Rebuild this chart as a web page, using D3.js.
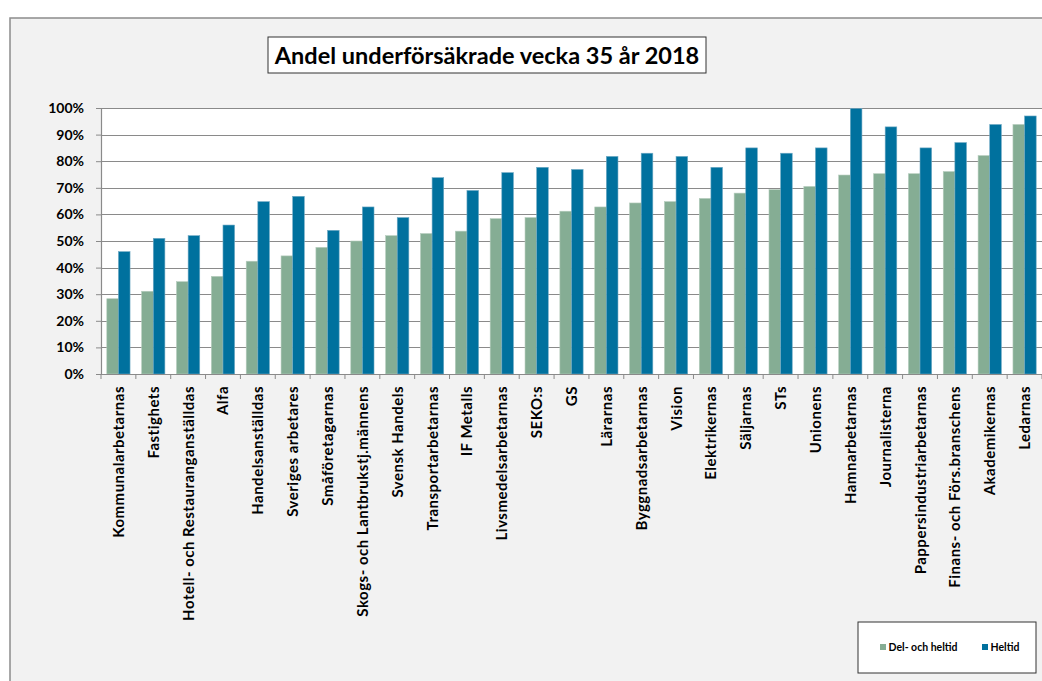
<!DOCTYPE html>
<html>
<head>
<meta charset="utf-8">
<title>Andel underförsäkrade</title>
<script src="https://d3js.org/d3.v7.min.js"></script>
<style>
body{margin:0;background:#fff;}
svg{display:block;font-family:Lato,"Open Sans",sans-serif;}
</style>
</head>
<body>
<svg class="chart"></svg>
<script>
var categories=["Kommunalarbetarnas","Fastighets","Hotell- och Restauranganställdas","Alfa","Handelsanställdas",
"Sveriges arbetares","Småföretagarnas","Skogs- och Lantbrukstj.männens","Svensk Handels","Transportarbetarnas",
"IF Metalls","Livsmedelsarbetarnas","SEKO:s","GS","Lärarnas","Byggnadsarbetarnas","Vision","Elektrikernas",
"Säljarnas","STs","Unionens","Hamnarbetarnas","Journalisterna","Pappersindustriarbetarnas",
"Finans- och Förs.branschens","Akademikernas","Ledarnas"];
var delOchHeltid=[28.3,31.1,34.7,36.7,42.4,44.4,47.6,50,52,52.8,53.7,58.4,58.8,61.2,62.8,64.3,64.8,66,68,69.3,70.5,74.8,75.3,75.3,76.1,82.1,93.8];
var heltid=[46,51,52,56,64.8,66.8,54,62.8,58.8,73.8,69,75.7,77.7,76.9,81.8,83,81.8,77.7,85,83,85,99.8,92.9,85,87,93.8,97];
var seriesNames=["Del- och heltid","Heltid"];
var yTicks=[0,10,20,30,40,50,60,70,80,90,100];

var W=1042,H=681;
var colors=["#85ad94","#00719e"];
var svg=d3.select(".chart").attr("width",W).attr("height",H);

// outer frame
svg.append("rect").attr("x",10).attr("y",18).attr("width",W+10).attr("height",H)
   .attr("fill","#f2f2f2").attr("stroke","#8c8c8c").attr("stroke-width",1.5);

var pLeft=101,pRight=1042,pTop=108,pBottom=374;
var x=d3.scaleBand().domain(categories).range([pLeft,pRight]);
var sub=d3.scaleBand().domain(seriesNames).range([0,x.bandwidth()]).paddingInner(0).paddingOuter(0.5);
var y=d3.scaleLinear().domain([0,100]).range([pBottom,pTop]);

svg.append("rect").attr("x",pLeft).attr("y",pTop).attr("width",pRight-pLeft).attr("height",pBottom-pTop).attr("fill","#fff");

// gridlines
svg.append("g").selectAll("line").data(yTicks.slice(1)).enter().append("line")
   .attr("x1",pLeft).attr("x2",pRight)
   .attr("y1",function(d){return Math.round(y(d))+0.5;}).attr("y2",function(d){return Math.round(y(d))+0.5;})
   .attr("stroke","#8a8a8a").attr("stroke-width",1.2);

// bars
var rows=categories.map(function(c,i){return {name:c,vals:[delOchHeltid[i],heltid[i]]};});
var groups=svg.append("g").selectAll("g").data(rows).enter().append("g")
   .attr("transform",function(d){return "translate("+x(d.name)+",0)";});
groups.selectAll("rect").data(function(d){return d.vals.map(function(v,k){return {s:seriesNames[k],v:v,k:k};});})
   .enter().append("rect")
   .attr("x",function(d){return sub(d.s);})
   .attr("width",sub.bandwidth())
   .attr("y",function(d){return y(d.v);})
   .attr("height",function(d){return pBottom-y(d.v);})
   .attr("fill",function(d){return colors[d.k];})
   .attr("stroke",function(d){return d.k?"#6fa9c4":"#b5ccbd";}).attr("stroke-width",0.6);

// y axis
var yAxis=svg.append("g").attr("transform","translate("+pLeft+",0)")
   .call(d3.axisLeft(y).tickValues(yTicks).tickFormat(function(d){return d+"%";}).tickSize(5).tickPadding(12));
yAxis.select(".domain").attr("stroke","#8a8a8a").attr("stroke-width",1.2);
yAxis.selectAll(".tick line").attr("stroke","#8a8a8a");
yAxis.selectAll("text").attr("font-family","Lato").attr("font-weight","bold").attr("font-size","14px").attr("fill","#000");

// x axis
var xAxis=svg.append("g").attr("transform","translate(0,"+pBottom+")")
   .call(d3.axisBottom(x).tickSize(0).tickFormat(""));
xAxis.select(".domain").attr("stroke","#8a8a8a").attr("stroke-width",1.2);
xAxis.append("g").selectAll("line").data(categories.concat([null])).enter().append("line")
   .attr("x1",function(d,i){return pLeft+i*x.step();}).attr("x2",function(d,i){return pLeft+i*x.step();})
   .attr("y1",0).attr("y2",5).attr("stroke","#8a8a8a");
svg.append("g").selectAll("text").data(categories).enter().append("text")
   .attr("transform",function(d){return "translate("+(x(d)+x.bandwidth()/2+5.5)+","+(pBottom+12)+") rotate(-90)";})
   .attr("text-anchor","end")
   .attr("font-weight","bold").attr("font-size","15px").attr("letter-spacing","0.5px").attr("fill","#000")
   .text(function(d){return d;});

// title
var tg=svg.append("g");
tg.append("rect").attr("x",268).attr("y",37).attr("width",438).attr("height",36)
  .attr("fill","#fff").attr("stroke","#333").attr("stroke-width",1);
tg.append("text").attr("x",487).attr("y",63.5).attr("text-anchor","middle")
  .attr("font-weight","bold").attr("font-size","23.5px").attr("fill","#000")
  .text("Andel underförsäkrade vecka 35 år 2018");

// legend
var lg=svg.append("g");
lg.append("rect").attr("x",858).attr("y",622).attr("width",178).attr("height",51)
  .attr("fill","#fff").attr("stroke","#333").attr("stroke-width",1);
var lx=[880,982];
var items=lg.selectAll("g").data(seriesNames).enter().append("g")
  .attr("transform",function(d,i){return "translate("+lx[i]+",644)";});
items.append("rect").attr("width",6).attr("height",6).attr("fill",function(d,i){return colors[i];});
items.append("text").attr("x",8.5).attr("y",7).attr("font-weight","bold").attr("font-size","10.5px").attr("fill","#000")
  .text(function(d){return d;});
</script>
</body>
</html>
